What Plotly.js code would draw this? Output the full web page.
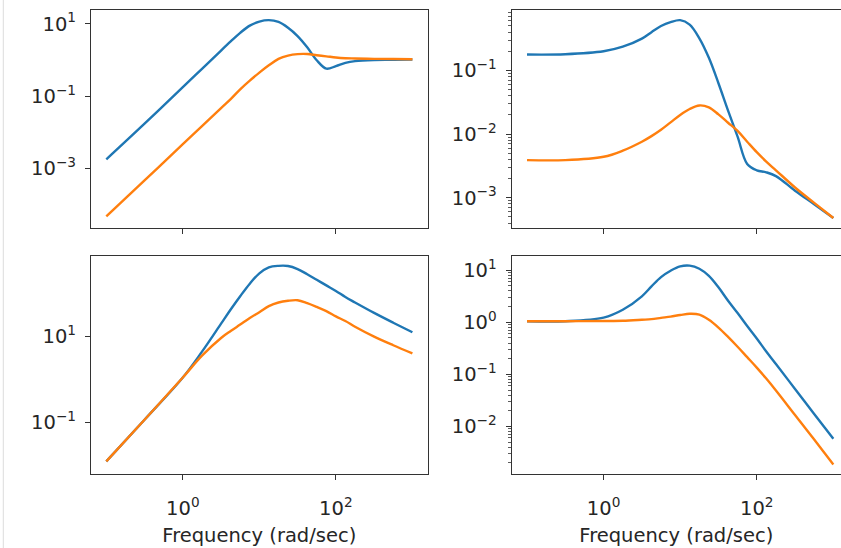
<!DOCTYPE html>
<html>
<head>
<meta charset="utf-8">
<script src="https://cdn.plot.ly/plotly-3.0.1.min.js"></script>
<style>html,body{margin:0;padding:0;background:#fff;}#chart{width:841px;height:548px;}</style>
</head>
<body>
<div id="chart"></div>
<script>
// Frequency grid (rad/sec)
const freq = [0.1, 0.316, 1, 1.78, 3.16, 4.22, 5.62, 7.5, 10, 13.3, 17.8, 23.7, 31.6, 42.2, 56.2, 75, 100, 133, 178, 316, 562, 1000];

// Top-left: sensitivity S
const sBlue   = [0.0018, 0.0174, 0.178, 0.57, 1.82, 3.24, 5.62, 8.9, 11.5, 12.6, 11.2, 7.76, 4.57, 2.24, 0.98, 0.575, 0.676, 0.83, 0.93, 1.0, 1.01, 1.03];
const sOrange = [4.8e-5, 4.7e-4, 4.7e-3, 0.0148, 0.047, 0.083, 0.155, 0.27, 0.447, 0.71, 1.07, 1.32, 1.45, 1.46, 1.35, 1.26, 1.17, 1.12, 1.10, 1.07, 1.06, 1.05];

// Top-right: load sensitivity PS
const psBlue   = [0.178, 0.18, 0.2, 0.236, 0.316, 0.40, 0.50, 0.575, 0.617, 0.525, 0.32, 0.158, 0.063, 0.0234, 0.0091, 0.0034, 0.0027, 0.00251, 0.00219, 0.00129, 0.00079, 0.00048];
const psOrange = [0.0039, 0.0039, 0.0044, 0.0055, 0.0076, 0.0093, 0.0117, 0.0153, 0.02, 0.0248, 0.0282, 0.0263, 0.0204, 0.0151, 0.0112, 0.0076, 0.0052, 0.0037, 0.0027, 0.00145, 0.00083, 0.00048];

// Bottom-left: noise sensitivity CS
const csBlue   = [0.0126, 0.117, 1.12, 4.47, 20, 42.7, 87, 170, 295, 407, 441, 437, 372, 282, 209, 155, 115, 83, 62, 35.5, 21, 12.6];
const csOrange = [0.0126, 0.117, 1.12, 3.6, 9.3, 13.5, 19, 27, 37, 51, 62, 68, 70, 60, 49, 39, 29.5, 23, 17, 10, 6.3, 4.07];

// Bottom-right: complementary sensitivity T
const tBlue   = [1.05, 1.05, 1.23, 1.74, 3.16, 4.9, 7.4, 9.8, 11.9, 12.3, 10.7, 7.8, 4.7, 2.6, 1.51, 0.85, 0.49, 0.275, 0.158, 0.0525, 0.0174, 0.0058];
const tOrange = [1.05, 1.05, 1.06, 1.07, 1.12, 1.15, 1.22, 1.29, 1.38, 1.46, 1.41, 1.12, 0.794, 0.525, 0.339, 0.214, 0.135, 0.083, 0.049, 0.0166, 0.0056, 0.00186];

const xTickVals = [1, 100];
const xTickText = ['10<sup>0</sup>', '10<sup>2</sup>'];
const tlTickVals = [10, 0.1, 0.001];
const tlTickText = ['10<sup>1</sup>', '10<sup>\u22121</sup>', '10<sup>\u22123</sup>'];
const trTickVals = [0.1, 0.01, 0.001];
const trTickText = ['10<sup>\u22121</sup>', '10<sup>\u22122</sup>', '10<sup>\u22123</sup>'];
const blTickVals = [10, 0.1];
const blTickText = ['10<sup>1</sup>', '10<sup>\u22121</sup>'];
const brTickVals = [10, 1, 0.1, 0.01];
const brTickText = ['10<sup>1</sup>', '10<sup>0</sup>', '10<sup>\u22121</sup>', '10<sup>\u22122</sup>'];

const BLUE = '#1f77b4', ORANGE = '#ff7f0e';
const FONT = 'DejaVu Sans, sans-serif';
const FS = 19.5;
const TFS = 19.5;

function minorVals(lo, hi) {
  const v = [];
  for (let e = lo; e <= hi; e++) for (let d = 2; d <= 9; d++) v.push(d * Math.pow(10, e));
  return v;
}

function line(x, y, color, xa, ya) {
  return {x: x, y: y, xaxis: xa, yaxis: ya, type: 'scatter', mode: 'lines',
          line: {color: color, width: 2.4, shape: 'spline', smoothing: 1.0},
          hoverinfo: 'skip', showlegend: false};
}

const data = [
  line(freq, sBlue, BLUE, 'x', 'y'),
  line(freq, sOrange, ORANGE, 'x', 'y'),
  line(freq, psBlue, BLUE, 'x2', 'y2'),
  line(freq, psOrange, ORANGE, 'x2', 'y2'),
  line(freq, csBlue, BLUE, 'x3', 'y3'),
  line(freq, csOrange, ORANGE, 'x3', 'y3'),
  line(freq, tBlue, BLUE, 'x4', 'y4'),
  line(freq, tOrange, ORANGE, 'x4', 'y4')
];

const base = {
  type: 'log', showgrid: false, zeroline: false, showline: true,
  linecolor: '#333', linewidth: 1.1, ticks: 'outside', ticklen: 5, tickwidth: 1.1,
  tickcolor: '#333', tickfont: {family: FONT, size: FS, color: '#262626'},
  tickmode: 'array', fixedrange: true
};
function ax(extra) { return Object.assign({}, base, extra); }
const minorStyle = {ticks: 'outside', ticklen: 3, tickwidth: 0.8, tickcolor: '#333', showgrid: false, tickmode: 'array'};
const xTitle = {text: 'Frequency (rad/sec)', font: {family: FONT, size: TFS, color: '#262626'}, standoff: 9};

const L = [91/841, 427.7/841];
const R = [511.7/841, 1];
const TOP = [1 - 228.3/548, 1 - 10/548];
const BOT = [1 - 474.3/548, 1 - 255.7/548];

const layout = {
  width: 841, height: 548,
  margin: {l: 0, r: 0, t: 0, b: 0},
  paper_bgcolor: '#fff', plot_bgcolor: '#fff',
  font: {family: FONT, color: '#262626'},
  showlegend: false,
  xaxis:  ax({domain: L, anchor: 'y',  range: [-1.2, 3.2], mirror: true, tickvals: xTickVals, showticklabels: false}),
  yaxis:  ax({domain: TOP, anchor: 'x',  range: [-4.65, 1.38], mirror: true, tickvals: tlTickVals, ticktext: tlTickText, ticklabelstandoff: 5}),
  xaxis2: ax({domain: R, anchor: 'y2', range: [-1.2, 3.1], mirror: true, tickvals: xTickVals, showticklabels: false}),
  yaxis2: ax({domain: TOP, anchor: 'x2', range: [-3.48, -0.05], mirror: false, tickvals: trTickVals, ticktext: trTickText, ticklabelstandoff: 5,
              minor: Object.assign({tickvals: minorVals(-4, -1)}, minorStyle)}),
  xaxis3: ax({domain: L, anchor: 'y3', range: [-1.2, 3.2], mirror: true, tickvals: xTickVals, ticktext: xTickText,
              ticklabelstandoff: 11, title: xTitle}),
  yaxis3: ax({domain: BOT, anchor: 'x3', range: [-2.2, 2.88], mirror: true, tickvals: blTickVals, ticktext: blTickText, ticklabelstandoff: 5}),
  xaxis4: ax({domain: R, anchor: 'y4', range: [-1.2, 3.1], mirror: true, tickvals: xTickVals, ticktext: xTickText,
              ticklabelstandoff: 11, title: xTitle}),
  yaxis4: ax({domain: BOT, anchor: 'x4', range: [-2.92, 1.28], mirror: false, tickvals: brTickVals, ticktext: brTickText, ticklabelstandoff: 5,
              minor: Object.assign({tickvals: minorVals(-3, 1)}, minorStyle)}),
  shapes: [
    {type: 'line', xref: 'paper', yref: 'paper', x0: 3.3/841, x1: 3.3/841, y0: 0, y1: 1,
     line: {color: '#dddddd', width: 1}}
  ]
};

Plotly.newPlot('chart', data, layout, {staticPlot: true, displayModeBar: false});
</script>
</body>
</html>
